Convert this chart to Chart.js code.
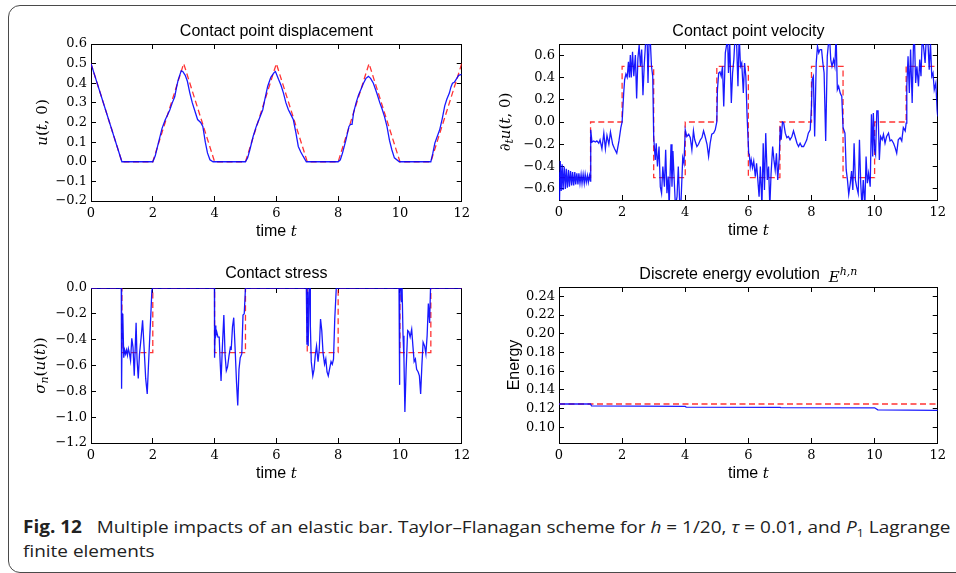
<!DOCTYPE html>
<html>
<head>
<meta charset="utf-8">
<script src="https://cdn.jsdelivr.net/npm/chart.js@4.4.0/dist/chart.umd.min.js"></script>
<style>
body { margin: 0; background: #fff; width: 956px; height: 573px; overflow: hidden; position: relative; }
.frame { position: absolute; left: 8px; top: 5px; width: 960px; height: 566px; border: 1.5px solid #4a4a4a; border-radius: 12px; }
canvas { position: absolute; }
.caption { position: absolute; left: 23px; top: 515px; font-family: "Open Sans"; font-size: 17px; line-height: 24px; color: #222;
  white-space: nowrap; transform: scaleX(1.115); transform-origin: left top; }
.caption i { font-style: italic; }
.caption sub { font-size: 11px; line-height: 0; }
</style>
</head>
<body>
<div class="frame"></div>
<canvas id="disp" width="480" height="250" style="left:0;top:0"></canvas>
<canvas id="vel" width="476" height="250" style="left:480px;top:0"></canvas>
<canvas id="stress" width="480" height="250" style="left:0;top:250px"></canvas>
<canvas id="energy" width="476" height="250" style="left:480px;top:250px"></canvas>
<div class="caption"><b>Fig. 12</b>&nbsp;&nbsp; Multiple impacts of an elastic bar. Taylor–Flanagan scheme for <i>h</i> = 1/20, <i>τ</i> = 0.01, and <i>P</i><sub>1</sub> Lagrange<br>finite elements</div>

<script>
// ticks
const xTicks = [0, 2, 4, 6, 8, 10, 12];
const dispTicks = [-0.2, -0.1, 0.0, 0.1, 0.2, 0.3, 0.4, 0.5, 0.6];
const velTicks = [-0.6, -0.4, -0.2, 0.0, 0.2, 0.4, 0.6];
const stressTicks = [-1.2, -1.0, -0.8, -0.6, -0.4, -0.2, 0.0];
const energyTicks = [0.10, 0.12, 0.14, 0.16, 0.18, 0.20, 0.22, 0.24];

// exact solution (red dashed), [t, value]
const dispExact = [[0,0.5],[1,0],[2,0],[3,0.5],[4,0],[5,0],[6,0.5],[7,0],[8,0],[9,0.5],[10,0],[11,0],[12,0.5]];
const velExact = [[0,-0.5],[1,-0.5],[1,0],[2,0],[2,0.5],[3,0.5],[3,-0.5],[4,-0.5],[4,0],[5,0],[5,0.5],[6,0.5],[6,-0.5],[7,-0.5],
  [7,0],[8,0],[8,0.5],[9,0.5],[9,-0.5],[10,-0.5],[10,0],[11,0],[11,0.5],[12,0.5]];
const stressExact = [[0,0],[1,0],[1,-0.5],[2,-0.5],[2,0],[4,0],[4,-0.5],[5,-0.5],[5,0],[7,0],[7,-0.5],[8,-0.5],[8,0],
  [10,0],[10,-0.5],[11,-0.5],[11,0],[12,0]];
const energyExact = [[0,0.125],[12,0.125]];

// numerical solution (blue), [t, value]
const dispNum = [[0,0.5],[1,0],[2,0],[2.08,0.03],[2.18,0.095],[2.3,0.17],[2.4,0.213],[2.48,0.24],[2.55,0.264],[2.63,0.3],
  [2.71,0.331],[2.77,0.38],[2.82,0.416],[2.92,0.463],[2.97,0.46],[3.05,0.44],[3.12,0.41],[3.2,0.35],[3.28,0.3],[3.36,0.26],
  [3.45,0.215],[3.55,0.2],[3.62,0.18],[3.7,0.1],[3.77,0.045],[3.85,0.01],[3.95,0],
  [5,0],[5.07,0.02],[5.14,0.06],[5.25,0.13],[5.35,0.18],[5.45,0.22],[5.56,0.265],[5.63,0.32],[5.72,0.385],[5.82,0.43],
  [5.93,0.455],[5.97,0.46],[6.07,0.42],[6.15,0.39],[6.23,0.35],[6.31,0.3],[6.39,0.265],[6.47,0.24],[6.55,0.214],[6.63,0.15],
  [6.71,0.078],[6.79,0.05],[6.87,0.027],[6.97,0],
  [8,0],[8.07,0.01],[8.14,0.044],[8.25,0.11],[8.35,0.18],[8.4,0.19],[8.45,0.19],[8.5,0.25],[8.58,0.3],[8.66,0.34],
  [8.74,0.37],[8.82,0.4],[8.9,0.425],[8.98,0.435],[9.05,0.425],[9.14,0.4],[9.25,0.35],[9.35,0.3],[9.42,0.27],[9.5,0.23],
  [9.58,0.18],[9.66,0.11],[9.74,0.06],[9.82,0.02],[9.98,0],
  [11,0],[11.06,0.04],[11.13,0.095],[11.21,0.13],[11.29,0.165],[11.37,0.22],[11.45,0.285],[11.52,0.32],[11.6,0.35],
  [11.65,0.38],[11.7,0.4],[11.76,0.405],[11.8,0.415],[11.9,0.44],[12,0.445]];

const velNum = [[0,-0.45],[0.017,-0.70],[0.04,-0.35],[0.07,-0.62],[0.1,-0.38],[0.13,-0.61],[0.165,-0.40],[0.2,-0.60],
  [0.23,-0.42],[0.265,-0.59],[0.3,-0.43],[0.33,-0.58],[0.365,-0.44],[0.4,-0.57],[0.43,-0.45],[0.465,-0.57],[0.5,-0.45],
  [0.53,-0.56],[0.565,-0.46],[0.6,-0.56],[0.63,-0.46],[0.665,-0.55],[0.7,-0.47],[0.73,-0.55],[0.765,-0.47],[0.8,-0.55],
  [0.83,-0.47],[0.865,-0.54],[0.9,-0.48],[0.93,-0.54],[0.965,-0.48],[0.995,-0.53],
  [1.005,-0.07],[1.045,-0.18],[1.1,-0.17],[1.15,-0.18],[1.2,-0.17],[1.26,-0.19],[1.3,-0.16],[1.36,-0.24],[1.42,-0.10],
  [1.47,-0.24],[1.52,-0.12],[1.58,-0.20],[1.63,-0.09],[1.7,-0.20],[1.76,-0.24],[1.83,-0.28],[1.9,-0.17],[1.96,-0.05],[2.0,0.0],
  [2.05,0.26],[2.08,0.38],[2.12,0.43],[2.16,0.40],[2.2,0.54],[2.23,0.40],[2.26,0.60],[2.29,0.40],[2.33,0.63],[2.37,0.41],
  [2.42,0.60],[2.46,0.21],[2.5,0.57],[2.54,0.69],[2.58,0.50],[2.62,0.65],[2.66,0.24],[2.7,0.51],[2.75,0.74],[2.79,0.78],
  [2.82,0.35],[2.86,0.78],[2.89,0.75],[2.93,0.50],[2.97,0.41],[3.0,-0.13],
  [3.02,-0.22],[3.05,-0.34],[3.08,-0.19],[3.12,-0.40],[3.17,-0.22],[3.21,-0.58],[3.25,-0.64],[3.29,-0.40],[3.34,-0.58],
  [3.38,-0.25],[3.42,-0.64],[3.46,-0.49],[3.49,-0.76],[3.55,-0.20],[3.58,-0.58],[3.61,-0.26],[3.65,-0.52],[3.69,-0.76],
  [3.74,-0.67],[3.78,-0.40],[3.82,-0.70],[3.86,-0.76],[3.92,-0.32],[3.96,-0.37],[4.0,-0.07],
  [4.05,-0.13],[4.11,-0.11],[4.16,-0.14],[4.21,-0.25],[4.26,-0.08],[4.3,-0.16],[4.37,-0.22],[4.42,-0.20],[4.48,-0.16],
  [4.53,-0.14],[4.58,-0.08],[4.63,-0.13],[4.69,-0.20],[4.74,-0.31],[4.79,-0.19],[4.84,-0.11],[4.9,-0.10],[4.95,-0.07],[5.0,0.0],
  [5.02,0.29],[5.06,0.44],[5.1,0.45],[5.14,0.41],[5.18,0.50],[5.22,0.14],[5.27,0.62],[5.31,0.69],[5.34,0.78],[5.37,0.44],
  [5.41,0.71],[5.46,0.17],[5.5,0.44],[5.54,0.56],[5.58,0.78],[5.63,0.69],[5.67,0.32],[5.71,0.78],[5.75,0.50],[5.79,0.53],
  [5.84,0.26],[5.88,0.53],[5.92,0.41],[5.96,0.05],[6.01,-0.28],
  [6.03,-0.29],[6.06,-0.40],[6.09,-0.34],[6.13,-0.41],[6.17,-0.35],[6.22,-0.49],[6.26,-0.37],[6.3,-0.52],[6.34,-0.67],
  [6.38,-0.40],[6.43,-0.76],[6.47,-0.19],[6.51,-0.61],[6.55,-0.10],[6.6,-0.52],[6.64,-0.40],[6.68,-0.76],[6.72,-0.46],
  [6.77,-0.22],[6.81,-0.34],[6.85,-0.43],[6.89,-0.28],[6.93,-0.52],[6.98,-0.31],[7.01,-0.04],
  [7.04,-0.16],[7.08,0.0],[7.12,-0.01],[7.17,-0.10],[7.22,-0.14],[7.27,-0.13],[7.32,-0.16],[7.38,-0.13],[7.43,-0.08],
  [7.48,-0.13],[7.54,-0.19],[7.59,-0.22],[7.64,-0.19],[7.69,-0.22],[7.75,-0.22],[7.8,-0.19],[7.85,-0.16],[7.9,-0.10],
  [7.96,-0.07],[8.0,0.14],
  [8.02,0.38],[8.06,0.41],[8.1,-0.13],[8.15,0.53],[8.19,0.68],[8.23,0.62],[8.27,0.65],[8.32,0.65],[8.36,0.53],[8.4,0.44],
  [8.45,-0.17],[8.5,0.59],[8.54,0.71],[8.57,0.78],[8.61,0.56],[8.65,0.50],[8.7,0.56],[8.74,0.50],[8.78,0.78],[8.82,0.29],
  [8.86,0.32],[8.91,0.26],[8.96,0.23],[9.0,-0.05],
  [9.06,-0.10],[9.1,-0.43],[9.14,-0.52],[9.18,-0.65],[9.23,-0.55],[9.27,-0.44],[9.31,-0.61],[9.35,-0.19],[9.39,-0.52],
  [9.43,-0.58],[9.48,-0.64],[9.52,-0.16],[9.56,-0.55],[9.6,-0.76],[9.64,-0.52],[9.69,-0.76],[9.73,-0.31],[9.77,-0.55],
  [9.81,-0.46],[9.86,-0.58],[9.9,0.07],[9.94,-0.31],[9.96,0.08],[10.0,-0.25],
  [10.03,-0.29],[10.07,0.10],[10.11,0.10],[10.15,-0.34],[10.19,-0.13],[10.24,-0.16],[10.28,-0.11],[10.33,-0.19],
  [10.38,-0.13],[10.44,-0.10],[10.49,-0.17],[10.54,-0.16],[10.6,-0.19],[10.65,-0.23],[10.7,-0.28],[10.75,-0.16],
  [10.81,-0.14],[10.86,-0.17],[10.91,-0.05],[10.97,-0.08],[11.0,-0.01],
  [11.02,0.32],[11.06,0.59],[11.1,0.26],[11.14,0.65],[11.19,0.17],[11.23,0.68],[11.26,0.78],[11.3,0.35],[11.34,0.50],
  [11.39,0.32],[11.43,0.56],[11.47,0.41],[11.51,0.78],[11.56,0.65],[11.6,0.53],[11.64,0.78],[11.68,0.78],[11.73,0.47],
  [11.77,0.71],[11.81,0.41],[11.85,0.44],[11.89,0.29],[11.94,0.35],[11.98,0.11],[12.0,0.05]];

const stressNum = [[0,0],[0.98,0],[0.99,-0.78],[1.01,-0.20],[1.03,-0.21],[1.06,-0.54],[1.09,-0.48],[1.12,-0.51],
  [1.15,-0.48],[1.18,-0.52],[1.21,-0.47],[1.24,-0.50],[1.28,-0.56],[1.32,-0.39],[1.36,-0.46],[1.40,-0.68],[1.46,-0.27],
  [1.49,-0.55],[1.53,-0.70],[1.57,-0.51],[1.62,-0.39],[1.67,-0.25],[1.72,-0.47],[1.77,-0.70],[1.82,-0.82],[1.86,-0.60],
  [1.90,-0.39],[1.94,-0.19],[1.97,-0.02],[1.995,0],
  [3.995,0],[4.0,-0.54],[4.02,-0.29],[4.04,-0.37],[4.07,-0.34],[4.11,-0.38],[4.15,-0.38],[4.18,-0.57],[4.21,-0.72],
  [4.25,-0.47],[4.30,-0.21],[4.34,-0.52],[4.38,-0.64],[4.42,-0.61],[4.47,-0.52],[4.51,-0.46],[4.54,-0.47],[4.58,-0.30],
  [4.62,-0.23],[4.67,-0.50],[4.71,-0.73],[4.75,-0.91],[4.79,-0.63],[4.83,-0.54],[4.88,-0.51],[4.92,-0.21],[4.96,-0.20],[5.0,0],
  [6.97,0],[6.99,-0.44],[7.01,-0.03],[7.03,-0.45],[7.06,0],[7.09,0],[7.1,-0.29],[7.13,-0.57],[7.18,-0.68],[7.22,-0.63],
  [7.26,-0.52],[7.30,-0.45],[7.35,-0.57],[7.39,-0.47],[7.43,-0.24],[7.47,-0.33],[7.51,-0.50],[7.56,-0.59],[7.60,-0.55],
  [7.64,-0.65],[7.68,-0.68],[7.72,-0.63],[7.77,-0.57],[7.81,-0.59],[7.85,-0.55],[7.89,-0.24],[7.94,0],
  [9.97,0],[9.98,-0.75],[10.0,0],[10.03,0],[10.05,-0.11],[10.07,0],[10.10,-0.37],[10.13,-0.55],[10.16,-0.96],[10.20,-0.63],
  [10.25,-0.33],[10.29,-0.34],[10.33,-0.38],[10.38,-0.32],[10.42,-0.45],[10.46,-0.57],[10.50,-0.55],[10.54,-0.63],
  [10.59,-0.65],[10.63,-0.68],[10.67,-0.82],[10.71,-0.60],[10.75,-0.42],[10.80,-0.45],[10.84,-0.51],[10.88,-0.37],
  [10.92,-0.12],[10.96,-0.27],[10.99,0],[12,0]];

const energyNum = [[0,0.125],[1.0,0.125],[1.03,0.1229],[4.0,0.1224],[4.03,0.1217],[7.0,0.1214],[7.03,0.1211],
  [10.0,0.1209],[10.1,0.1187],[12,0.1181]];

const SANS = '16px "Liberation Sans"';
const MATH = 'italic 15px "DejaVu Serif"';
const MROM = '15px "DejaVu Serif"';
const MSUB = 'italic 11px "DejaVu Serif"';

const xLabel = [['time ', SANS], ['t', MATH]];

function drawRich(ctx, parts, x, y, angle) {
  ctx.save();
  ctx.translate(x, y);
  ctx.rotate(angle);
  ctx.fillStyle = '#000';
  ctx.textBaseline = 'alphabetic';
  ctx.textAlign = 'left';
  let w = 0;
  parts.forEach(p => { ctx.font = p[1]; w += ctx.measureText(p[0]).width; });
  let px = -w / 2;
  parts.forEach(p => {
    ctx.font = p[1];
    ctx.fillText(p[0], px, p[2] || 0);
    px += ctx.measureText(p[0]).width;
  });
  ctx.restore();
}

const richLabels = {
  id: 'richLabels',
  afterDraw(chart, args, o) {
    const ctx = chart.ctx, a = chart.chartArea;
    const cx = (a.left + a.right) / 2, cy = (a.top + a.bottom) / 2;
    drawRich(ctx, o.title, cx, a.top - o.titleGap, 0);
    drawRich(ctx, xLabel, cx, a.bottom + o.xGap, 0);
    drawRich(ctx, o.yLabel, a.left - o.yGap, cy, -Math.PI / 2);
  }
};

function fmt(v, dec) {
  return (v < 0 ? '\u2212' : '') + Math.abs(v).toFixed(dec);
}

function axis(pos, ticks, min, max, dec, size) {
  const horiz = pos === 'top' || pos === 'bottom';
  return {
    type: 'linear', position: pos, min: min, max: max,
    afterBuildTicks: s => { s.ticks = ticks.map(v => ({ value: v })); },
    afterFit: s => { if (horiz) s.height = size; else s.width = size; },
    grid: { display: true, drawOnChartArea: false, drawTicks: true, tickLength: -5, color: '#000', lineWidth: 1 },
    border: { display: true, color: '#000', width: 1 },
    ticks: {
      display: pos === 'bottom' || pos === 'left',
      color: '#000', font: { family: 'DejaVu Serif', size: 13 },
      padding: horiz ? 10 : 9, maxRotation: 0, autoSkip: false,
      callback: v => fmt(v, dec)
    }
  };
}

function makeChart(id, num, exact, yTicks, yMin, yMax, dec, labels, pad) {
  const pts = arr => arr.map(p => ({ x: p[0], y: p[1] }));
  new Chart(document.getElementById(id), {
    type: 'line',
    data: {
      datasets: [
        { data: pts(num), borderColor: 'rgba(0,0,255,0.9)', borderWidth: 1.3, pointRadius: 0, tension: 0 },
        { data: pts(exact), borderColor: 'rgba(255,0,0,0.8)', borderWidth: 1.3, borderDash: [6, 3.5], pointRadius: 0, tension: 0 }
      ]
    },
    options: {
      responsive: false, animation: false, devicePixelRatio: 1,
      layout: { padding: { left: 0, top: pad.top, right: pad.right, bottom: pad.bottom } },
      plugins: { legend: { display: false }, tooltip: { enabled: false }, richLabels: labels },
      scales: {
        x: axis('bottom', xTicks, 0, 12, 0, 30),
        x2: axis('top', xTicks, 0, 12, 0, 0),
        y: axis('left', yTicks, yMin, yMax, dec, pad.left),
        y2: axis('right', yTicks, yMin, yMax, dec, 0)
      }
    },
    plugins: [richLabels]
  });
}

makeChart('disp', dispNum, dispExact, dispTicks, -0.2, 0.6, 1,
  { title: [['Contact point displacement', SANS]], titleGap: 8, xGap: 35, yGap: 44,
    yLabel: [['u', MATH], ['(', MROM], ['t', MATH], [', 0)', MROM]] },
  { left: 91, top: 44, right: 10, bottom: 19 });

makeChart('vel', velNum, velExact, velTicks, -0.7, 0.7, 1,
  { title: [['Contact point velocity', SANS]], titleGap: 8, xGap: 35, yGap: 49,
    yLabel: [['\u2202', MATH], ['t', MSUB, 3], ['u', MATH], ['(', MROM], ['t', MATH], [', 0)', MROM]] },
  { left: 79, top: 44, right: 18, bottom: 20 });

makeChart('stress', stressNum, stressExact, stressTicks, -1.2, 0.0, 1,
  { title: [['Contact stress', SANS]], titleGap: 10, xGap: 35, yGap: 46,
    yLabel: [['\u03c3', MATH], ['n', MSUB, 3], ['(', MROM], ['u', MATH], ['(', MROM], ['t', MATH], ['))', MROM]] },
  { left: 91, top: 38, right: 10, bottom: 27 });

makeChart('energy', energyNum, energyExact, energyTicks, 0.0833, 0.25, 2,
  { title: [['Discrete energy evolution  ', SANS], ['E', MATH, 3], ['h,n', MSUB, -4]], titleGap: 8, xGap: 35, yGap: 40,
    yLabel: [['Energy', SANS]] },
  { left: 79, top: 37, right: 18, bottom: 27 });
</script>
</body>
</html>
